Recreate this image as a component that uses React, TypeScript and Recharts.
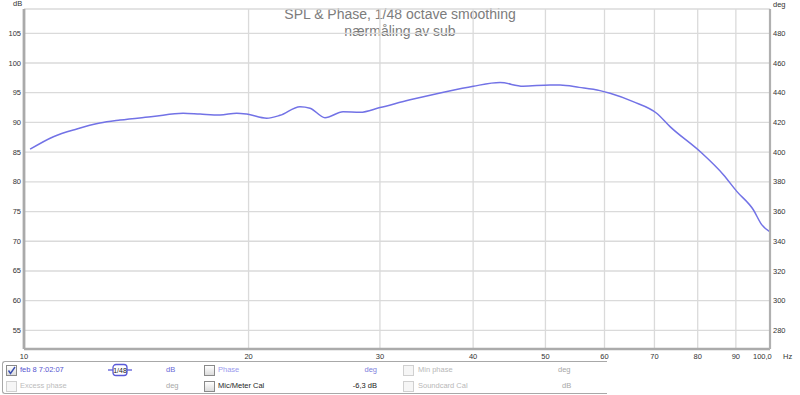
import React from 'react';
import { LineChart, Line, XAxis, YAxis, CartesianGrid } from 'recharts';

const freqHz = [10.19, 10.95, 11.77, 12.64, 13.45, 14.89, 16.34, 17.22, 18.31, 19.28, 19.89, 21.15, 22.04, 23.44, 24.18, 25.32, 26.77, 28.21, 30.0, 32.92, 36.0, 40.02, 43.46, 46.66, 50.72, 52.3, 55.5, 59.18, 61.04, 65.54, 70.48, 73.45, 80.59, 86.6, 90.25, 94.98, 97.47, 100];
const splDb = [85.5, 87.6, 88.9, 89.9, 90.4, 91.0, 91.55, 91.4, 91.25, 91.55, 91.4, 90.7, 91.2, 92.65, 92.4, 90.8, 91.8, 91.7, 92.5, 93.8, 94.9, 96.1, 96.7, 96.1, 96.3, 96.3, 95.9, 95.35, 94.9, 93.5, 91.55, 89.3, 85.1, 81.2, 78.4, 75.3, 72.8, 71.6];

const xTicks = [10, 20, 30, 40, 50, 60, 70, 80, 90, 100];
const dbTicks = [55, 60, 65, 70, 75, 80, 85, 90, 95, 100, 105];
const degTicks = [280, 300, 320, 340, 360, 380, 400, 420, 440, 460, 480];
const titleLines = ['SPL & Phase, 1/48 octave smoothing', 'nærmåling av sub'];

const data = freqHz.map((f, i) => ({ f, spl: splDb[i] }));

const FONT = '"Liberation Sans", Arial, sans-serif';
const TICK_FS = 7.5;

const XTick = (props: any) => {
  const { x, y, payload } = props;
  const v = payload.value;
  if (v === 100) {
    return (
      <g>
        <text x={x - 17} y={y + 7} dominantBaseline="central" fontSize={TICK_FS} fill="#333" fontFamily={FONT}>100,0</text>
        <text x={x + 13} y={y + 7} dominantBaseline="central" fontSize={TICK_FS} fill="#333" fontFamily={FONT}>Hz</text>
      </g>
    );
  }
  return (
    <text x={x} y={y + 7} textAnchor="middle" dominantBaseline="central" fontSize={TICK_FS} fill="#333" fontFamily={FONT}>{v}</text>
  );
};

const LeftTick = (props: any) => {
  const { x, y, payload } = props;
  return (
    <text x={x - 3} y={y} textAnchor="end" dominantBaseline="central" fontSize={TICK_FS} fill="#333" fontFamily={FONT}>{payload.value}</text>
  );
};

const RightTick = (props: any) => {
  const { x, y, payload } = props;
  return (
    <text x={x + 3} y={y} textAnchor="start" dominantBaseline="central" fontSize={TICK_FS} fill="#333" fontFamily={FONT}>{payload.value}</text>
  );
};

const Box = ({ left, top, checked, disabled }: { left: number; top: number; checked?: boolean; disabled?: boolean }) => (
  <div style={{
    position: 'absolute', left, top, width: 9, height: 9,
    border: `1px solid ${disabled ? '#d0d0d0' : '#8a8a8a'}`,
    background: disabled ? '#f6f6f6' : 'linear-gradient(#ffffff, #dcdcdc)',
    boxSizing: 'content-box',
  }}>
    {checked ? (
      <svg width={9} height={9} style={{ position: 'absolute', left: 0, top: 0 }}>
        <path d="M1.5 4.5 L3.5 7.5 L8 1" stroke="#3a4fb0" strokeWidth={1.4} fill="none" />
      </svg>
    ) : null}
  </div>
);

const Txt = ({ left, top, color, children, right }: any) => (
  <div style={{
    position: 'absolute', left: right !== undefined ? undefined : left, right: right !== undefined ? 800 - right : undefined,
    top: top - 5, height: 10, lineHeight: '10px', fontSize: 7.5, fontFamily: FONT, color, whiteSpace: 'nowrap',
  }}>{children}</div>
);

export default function App() {
  const r1 = 370;
  const r2 = 385.5;
  return (
    <div style={{ position: 'fixed', left: 0, top: 0, width: 800, height: 395, background: '#fff', overflow: 'hidden' }}>
      <div style={{ position: 'absolute', left: 0, top: 6, width: 800, textAlign: 'center', fontFamily: FONT, fontSize: 14, lineHeight: '17px', color: '#7c7c7c' }}>
        {titleLines.map((t) => <div key={t}>{t}</div>)}
      </div>
      <div style={{ position: 'absolute', left: 0, top: 0 }}>
        <LineChart width={800} height={370} data={data} margin={{ top: 9, right: 0, bottom: 0, left: 0 }}>
          <CartesianGrid stroke="#dadada" strokeWidth={1.3} />
          <XAxis dataKey="f" type="number" scale="log" domain={[10, 100]} ticks={xTicks} allowDataOverflow
            tick={<XTick />} tickLine={false} tickSize={0} tickMargin={0} height={21}
            axisLine={{ stroke: '#ababab', strokeWidth: 2.5 }} interval={0} />
          <XAxis xAxisId="top" orientation="top" dataKey="f" type="number" scale="log" domain={[10, 100]} allowDataOverflow
            tick={false} tickLine={false} height={0} axisLine={{ stroke: '#b4b4b4', strokeWidth: 2.2 }} />
          <YAxis type="number" domain={[51.87, 109.09]} ticks={dbTicks} allowDataOverflow width={24}
            tick={<LeftTick />} tickLine={false} tickSize={0} tickMargin={0} interval={0}
            axisLine={{ stroke: '#aaaaaa', strokeWidth: 2.8 }} />
          <YAxis yAxisId="deg" orientation="right" type="number" domain={[267.5, 496.4]} ticks={degTicks} allowDataOverflow width={30}
            tick={<RightTick />} tickLine={false} tickSize={0} tickMargin={0} interval={0}
            axisLine={{ stroke: '#b0b0b0', strokeWidth: 2.2 }} />
          <Line dataKey="spl" type="monotone" stroke="#7272e6" strokeWidth={1.5} dot={false} isAnimationActive={false} />
        </LineChart>
      </div>
      <Txt left={13} top={4} color="#333">dB</Txt>
      <Txt left={773} top={5} color="#333">deg</Txt>

      <div style={{
        position: 'absolute', left: 2, top: 361, width: 604, height: 31,
        borderTop: '1px solid #a8a8a8', borderBottom: '1px solid #a8a8a8', borderLeft: '1px solid #a8a8a8',
        borderRadius: '3px 0 0 3px', background: '#fff', boxSizing: 'content-box',
      }} />

      <Box left={6} top={r1 - 5} checked />
      <Txt left={20} top={r1} color="#5656d0">feb 8 7:02:07</Txt>
      <svg style={{ position: 'absolute', left: 106, top: r1 - 7 }} width={28} height={14}>
        <line x1={2} y1={7} x2={26} y2={7} stroke="#5a5ad8" strokeWidth={1.3} />
        <rect x={7} y={1.5} width={14} height={11} rx={3} fill="#fff" stroke="#5a5ad8" strokeWidth={1.3} />
        <text x={14} y={7.5} textAnchor="middle" dominantBaseline="central" fontSize={7} fontFamily={FONT} fill="#222">1/48</text>
      </svg>
      <Txt left={166} top={r1} color="#6a6ad8">dB</Txt>
      <Box left={204} top={r1 - 5} />
      <Txt left={218} top={r1} color="#9a9aee">Phase</Txt>
      <Txt right={377} top={r1} color="#8080dd">deg</Txt>
      <Box left={403} top={r1 - 5} disabled />
      <Txt left={418} top={r1} color="#b8b8b8">Min phase</Txt>
      <Txt left={558} top={r1} color="#a8a8a8">deg</Txt>

      <Box left={6} top={r2 - 5} disabled />
      <Txt left={20} top={r2} color="#bcbcbc">Excess phase</Txt>
      <Txt left={166} top={r2} color="#a8a8a8">deg</Txt>
      <Box left={204} top={r2 - 5} />
      <Txt left={218} top={r2} color="#1e1e1e">Mic/Meter Cal</Txt>
      <Txt right={377} top={r2} color="#222">-6,3 dB</Txt>
      <Box left={403} top={r2 - 5} disabled />
      <Txt left={418} top={r2} color="#b8b8b8">Soundcard Cal</Txt>
      <Txt left={562} top={r2} color="#a8a8a8">dB</Txt>
    </div>
  );
}
